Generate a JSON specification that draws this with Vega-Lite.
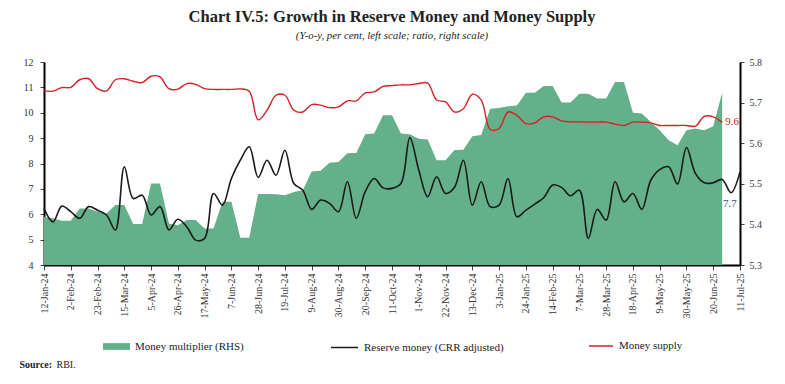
{
  "$schema": "https://vega.github.io/schema/vega-lite/v6.json",
  "width": 696,
  "height": 203,
  "autosize": {"type": "none"},
  "padding": {"left": 44, "top": 62, "right": 45, "bottom": 119},
  "background": "white",
  "config": {
    "view": {"stroke": null},
    "font": "Liberation Serif",
    "legend": {"labelFont": "Liberation Serif", "labelFontSize": 11, "labelColor": "#222", "padding": 0, "labelOffset": 5},
    "axisLeft": {
      "values": [4, 5, 6, 7, 8, 9, 10, 11, 12],
      "labelFont": "Liberation Serif",
      "labelFontSize": 10,
      "labelColor": "#333",
      "labelPadding": 7,
      "domainColor": "#000",
      "domainWidth": 2,
      "tickColor": "#444",
      "tickSize": 4,
      "grid": false,
      "titleFont": "Liberation Serif",
      "titleFontSize": 10,
      "titleFontWeight": "bold",
      "titleColor": "#222",
      "titleAngle": 0,
      "titleAlign": "left",
      "titleBaseline": "alphabetic",
      "titleX": -25,
      "titleY": 305
    }
  },
  "title": {
    "text": "Chart IV.5: Growth in Reserve Money and Money Supply",
    "subtitle": "(Y-o-y, per cent, left scale; ratio, right scale)",
    "font": "Liberation Serif",
    "fontSize": 16.5,
    "fontWeight": "bold",
    "color": "#222",
    "subtitleFont": "Liberation Serif",
    "subtitleFontStyle": "italic",
    "subtitleFontSize": 10.8,
    "subtitleColor": "#222",
    "subtitlePadding": 5,
    "anchor": "middle",
    "offset": 16
  },
  "data": {"values": [
    {"date": "2024-01-12", "mm": 5.419, "rm": 6.23, "ms": 10.86},
    {"date": "2024-01-19", "mm": 5.415, "rm": 5.70, "ms": 10.85},
    {"date": "2024-01-26", "mm": 5.409, "rm": 6.32, "ms": 10.99},
    {"date": "2024-02-02", "mm": 5.409, "rm": 6.10, "ms": 11.00},
    {"date": "2024-02-09", "mm": 5.439, "rm": 5.84, "ms": 11.30},
    {"date": "2024-02-16", "mm": 5.439, "rm": 6.30, "ms": 11.34},
    {"date": "2024-02-23", "mm": 5.431, "rm": 6.16, "ms": 10.95},
    {"date": "2024-03-01", "mm": 5.427, "rm": 5.97, "ms": 10.86},
    {"date": "2024-03-08", "mm": 5.448, "rm": 5.38, "ms": 11.30},
    {"date": "2024-03-15", "mm": 5.448, "rm": 7.87, "ms": 11.34},
    {"date": "2024-03-22", "mm": 5.401, "rm": 6.62, "ms": 11.24},
    {"date": "2024-03-29", "mm": 5.401, "rm": 6.75, "ms": 11.19},
    {"date": "2024-04-05", "mm": 5.501, "rm": 5.97, "ms": 11.44},
    {"date": "2024-04-12", "mm": 5.501, "rm": 6.30, "ms": 11.41},
    {"date": "2024-04-19", "mm": 5.402, "rm": 5.38, "ms": 10.95},
    {"date": "2024-04-26", "mm": 5.398, "rm": 5.80, "ms": 10.93},
    {"date": "2024-05-03", "mm": 5.411, "rm": 5.51, "ms": 11.15},
    {"date": "2024-05-10", "mm": 5.411, "rm": 4.98, "ms": 11.12},
    {"date": "2024-05-17", "mm": 5.390, "rm": 5.05, "ms": 10.95},
    {"date": "2024-05-24", "mm": 5.390, "rm": 6.82, "ms": 10.92},
    {"date": "2024-05-31", "mm": 5.456, "rm": 6.36, "ms": 10.92},
    {"date": "2024-06-07", "mm": 5.456, "rm": 7.41, "ms": 10.92},
    {"date": "2024-06-14", "mm": 5.367, "rm": 8.13, "ms": 10.94},
    {"date": "2024-06-21", "mm": 5.367, "rm": 8.66, "ms": 10.85},
    {"date": "2024-06-28", "mm": 5.475, "rm": 7.45, "ms": 9.72},
    {"date": "2024-07-05", "mm": 5.475, "rm": 8.13, "ms": 10.10},
    {"date": "2024-07-12", "mm": 5.474, "rm": 7.54, "ms": 10.69},
    {"date": "2024-07-19", "mm": 5.472, "rm": 8.52, "ms": 10.69},
    {"date": "2024-07-26", "mm": 5.480, "rm": 7.21, "ms": 10.10},
    {"date": "2024-08-02", "mm": 5.484, "rm": 6.95, "ms": 10.03},
    {"date": "2024-08-09", "mm": 5.530, "rm": 6.19, "ms": 10.32},
    {"date": "2024-08-16", "mm": 5.532, "rm": 6.56, "ms": 10.30},
    {"date": "2024-08-23", "mm": 5.552, "rm": 6.43, "ms": 10.20},
    {"date": "2024-08-30", "mm": 5.554, "rm": 6.10, "ms": 10.23},
    {"date": "2024-09-06", "mm": 5.575, "rm": 7.28, "ms": 10.47},
    {"date": "2024-09-13", "mm": 5.576, "rm": 5.84, "ms": 10.47},
    {"date": "2024-09-20", "mm": 5.622, "rm": 6.89, "ms": 10.78},
    {"date": "2024-09-27", "mm": 5.624, "rm": 7.41, "ms": 10.82},
    {"date": "2024-10-04", "mm": 5.669, "rm": 7.04, "ms": 11.04},
    {"date": "2024-10-11", "mm": 5.669, "rm": 7.02, "ms": 11.07},
    {"date": "2024-10-18", "mm": 5.624, "rm": 7.21, "ms": 11.10},
    {"date": "2024-10-25", "mm": 5.622, "rm": 9.02, "ms": 11.10},
    {"date": "2024-11-01", "mm": 5.611, "rm": 7.74, "ms": 11.15},
    {"date": "2024-11-08", "mm": 5.609, "rm": 6.69, "ms": 11.17},
    {"date": "2024-11-15", "mm": 5.558, "rm": 7.48, "ms": 10.50},
    {"date": "2024-11-22", "mm": 5.558, "rm": 6.82, "ms": 10.43},
    {"date": "2024-11-29", "mm": 5.583, "rm": 7.06, "ms": 10.03},
    {"date": "2024-12-06", "mm": 5.584, "rm": 8.13, "ms": 10.16},
    {"date": "2024-12-13", "mm": 5.617, "rm": 6.36, "ms": 10.73},
    {"date": "2024-12-20", "mm": 5.620, "rm": 7.28, "ms": 10.50},
    {"date": "2024-12-27", "mm": 5.685, "rm": 6.30, "ms": 9.34},
    {"date": "2025-01-03", "mm": 5.687, "rm": 6.36, "ms": 9.38},
    {"date": "2025-01-10", "mm": 5.691, "rm": 7.41, "ms": 10.03},
    {"date": "2025-01-17", "mm": 5.693, "rm": 5.90, "ms": 9.90},
    {"date": "2025-01-24", "mm": 5.724, "rm": 6.16, "ms": 9.57},
    {"date": "2025-01-31", "mm": 5.724, "rm": 6.40, "ms": 9.60},
    {"date": "2025-02-07", "mm": 5.741, "rm": 6.65, "ms": 9.84},
    {"date": "2025-02-14", "mm": 5.741, "rm": 7.15, "ms": 9.84},
    {"date": "2025-02-21", "mm": 5.700, "rm": 7.06, "ms": 9.68},
    {"date": "2025-02-28", "mm": 5.700, "rm": 6.73, "ms": 9.64},
    {"date": "2025-03-07", "mm": 5.722, "rm": 6.95, "ms": 9.64},
    {"date": "2025-03-14", "mm": 5.722, "rm": 5.05, "ms": 9.63},
    {"date": "2025-03-21", "mm": 5.710, "rm": 6.19, "ms": 9.63},
    {"date": "2025-03-28", "mm": 5.710, "rm": 5.77, "ms": 9.63},
    {"date": "2025-04-04", "mm": 5.751, "rm": 7.28, "ms": 9.55},
    {"date": "2025-04-11", "mm": 5.751, "rm": 6.49, "ms": 9.50},
    {"date": "2025-04-18", "mm": 5.675, "rm": 6.82, "ms": 9.63},
    {"date": "2025-04-25", "mm": 5.673, "rm": 6.19, "ms": 9.63},
    {"date": "2025-05-02", "mm": 5.652, "rm": 7.34, "ms": 9.60},
    {"date": "2025-05-09", "mm": 5.632, "rm": 7.76, "ms": 9.50},
    {"date": "2025-05-16", "mm": 5.607, "rm": 7.87, "ms": 9.50},
    {"date": "2025-05-23", "mm": 5.595, "rm": 7.19, "ms": 9.50},
    {"date": "2025-05-30", "mm": 5.632, "rm": 8.63, "ms": 9.50},
    {"date": "2025-06-06", "mm": 5.636, "rm": 7.61, "ms": 9.47},
    {"date": "2025-06-13", "mm": 5.632, "rm": 7.24, "ms": 9.86},
    {"date": "2025-06-20", "mm": 5.642, "rm": 7.24, "ms": 9.84},
    {"date": "2025-06-27", "mm": 5.724, "rm": 7.37, "ms": 9.62},
    {"date": "2025-07-04", "mm": null, "rm": 6.85, "ms": null},
    {"date": "2025-07-11", "mm": null, "rm": 7.67, "ms": null}
  ]},
  "encoding": {
    "x": {
      "field": "date",
      "type": "temporal",
      "scale": {"type": "utc", "domain": [{"year": 2024, "month": "jan", "date": 12, "utc": true}, {"year": 2025, "month": "jul", "date": 11, "utc": true}]},
      "axis": {
        "values": [
          {"year": 2024, "month": "jan", "date": 12, "utc": true},
          {"year": 2024, "month": "feb", "date": 2, "utc": true},
          {"year": 2024, "month": "feb", "date": 23, "utc": true},
          {"year": 2024, "month": "mar", "date": 15, "utc": true},
          {"year": 2024, "month": "apr", "date": 5, "utc": true},
          {"year": 2024, "month": "apr", "date": 26, "utc": true},
          {"year": 2024, "month": "may", "date": 17, "utc": true},
          {"year": 2024, "month": "jun", "date": 7, "utc": true},
          {"year": 2024, "month": "jun", "date": 28, "utc": true},
          {"year": 2024, "month": "jul", "date": 19, "utc": true},
          {"year": 2024, "month": "aug", "date": 9, "utc": true},
          {"year": 2024, "month": "aug", "date": 30, "utc": true},
          {"year": 2024, "month": "sep", "date": 20, "utc": true},
          {"year": 2024, "month": "oct", "date": 11, "utc": true},
          {"year": 2024, "month": "nov", "date": 1, "utc": true},
          {"year": 2024, "month": "nov", "date": 22, "utc": true},
          {"year": 2024, "month": "dec", "date": 13, "utc": true},
          {"year": 2025, "month": "jan", "date": 3, "utc": true},
          {"year": 2025, "month": "jan", "date": 24, "utc": true},
          {"year": 2025, "month": "feb", "date": 14, "utc": true},
          {"year": 2025, "month": "mar", "date": 7, "utc": true},
          {"year": 2025, "month": "mar", "date": 28, "utc": true},
          {"year": 2025, "month": "apr", "date": 18, "utc": true},
          {"year": 2025, "month": "may", "date": 9, "utc": true},
          {"year": 2025, "month": "may", "date": 30, "utc": true},
          {"year": 2025, "month": "jun", "date": 20, "utc": true},
          {"year": 2025, "month": "jul", "date": 11, "utc": true}
        ],
        "labelExpr": "utcFormat(datum.value, '%-d-%b-%y')",
        "labelAngle": -90,
        "labelFont": "Liberation Serif",
        "labelFontSize": 10,
        "labelColor": "#333",
        "labelPadding": 3,
        "labelOverlap": false,
        "labelFlush": false,
        "domainColor": "#000",
        "domainWidth": 2,
        "tickColor": "#444",
        "tickSize": 5,
        "grid": false,
        "title": "RBI.",
        "titleFont": "Liberation Serif",
        "titleFontSize": 10,
        "titleFontWeight": "normal",
        "titleColor": "#222",
        "titleAlign": "left",
        "titleBaseline": "alphabetic",
        "titleX": 12,
        "titleY": 102
      }
    }
  },
  "layer": [
    {
      "mark": {"type": "area", "interpolate": "linear", "color": "#63b08b"},
      "encoding": {
        "y": {
          "field": "mm",
          "type": "quantitative",
          "scale": {"domain": [5.3, 5.8], "zero": false, "nice": false},
          "axis": {
            "orient": "right",
            "values": [5.3, 5.4, 5.5, 5.6, 5.7, 5.8],
            "format": ".1f",
            "labelFont": "Liberation Serif",
            "labelFontSize": 10,
            "labelColor": "#333",
            "labelPadding": 5,
            "domainColor": "#000",
            "domainWidth": 2,
            "tickColor": "#444",
            "tickSize": 4,
            "grid": false,
            "title": null
          }
        },
        "y2": {"datum": 5.3},
        "fill": {
          "datum": "Money multiplier (RHS)",
          "scale": {"range": ["#63b08b"]},
          "legend": {
            "orient": "none",
            "legendX": 59,
            "legendY": 271,
            "title": null,
            "symbolType": "M-1,-0.25L1,-0.25L1,0.25L-1,0.25Z",
            "symbolSize": 729,
            "symbolStrokeWidth": 0,
            "symbolOpacity": 1
          }
        }
      }
    },
    {
      "layer": [
        {
          "mark": {"type": "line", "interpolate": "catmull-rom", "strokeWidth": 1.6},
          "encoding": {
            "y": {
              "field": "rm",
              "type": "quantitative",
              "scale": {"domain": [4, 12], "zero": false, "nice": false},
              "axis": {"orient": "left", "title": "Source:"}
            },
            "stroke": {
              "datum": "Reserve money (CRR adjusted)",
              "scale": {"range": ["#1a1a1a"]},
              "legend": {
                "orient": "none",
                "legendX": 286,
                "legendY": 271,
                "title": null,
                "symbolType": "stroke",
                "symbolSize": 729,
                "symbolStrokeWidth": 1.5
              }
            }
          }
        },
        {
          "mark": {"type": "line", "interpolate": "catmull-rom", "strokeWidth": 1.4},
          "encoding": {
            "y": {"field": "ms", "type": "quantitative", "axis": {"orient": "left", "title": "Source:"}},
            "color": {
              "datum": "Money supply",
              "scale": {"range": ["#d42027"]},
              "legend": {
                "orient": "none",
                "legendX": 544,
                "legendY": 271,
                "title": null,
                "symbolType": "stroke",
                "symbolSize": 576,
                "symbolStrokeWidth": 1.5
              }
            }
          }
        },
        {
          "data": {"values": [{"date": "2025-06-27", "v": 9.62, "t": "9.6"}]},
          "mark": {"type": "text", "align": "left", "baseline": "middle", "dx": 3, "font": "Liberation Serif", "fontSize": 11, "color": "#d42027"},
          "encoding": {
            "y": {"field": "v", "type": "quantitative", "axis": {"orient": "left", "title": "Source:"}},
            "text": {"field": "t"}
          }
        },
        {
          "data": {"values": [{"date": "2025-07-11", "v": 7.67, "t": "7.7"}]},
          "mark": {"type": "text", "align": "left", "baseline": "middle", "dx": -17, "dy": 32, "font": "Liberation Serif", "fontSize": 11, "color": "#3d4f8f"},
          "encoding": {
            "y": {"field": "v", "type": "quantitative", "axis": {"orient": "left", "title": "Source:"}},
            "text": {"field": "t"}
          }
        }
      ]
    }
  ],
  "resolve": {"scale": {"y": "independent"}}
}
